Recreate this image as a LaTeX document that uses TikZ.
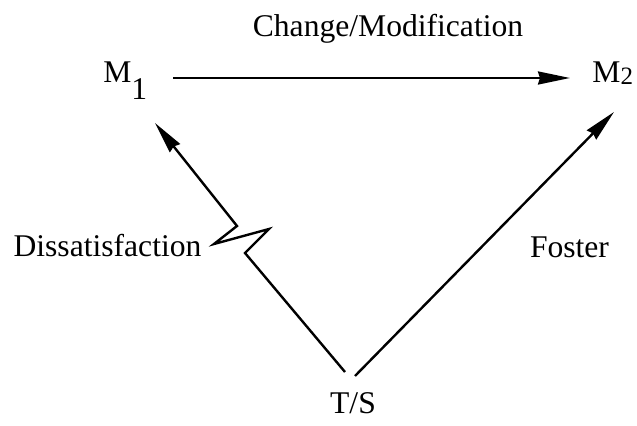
\documentclass[tikz,border=0pt]{standalone}
\usepackage{fontspec}
\setmainfont{Liberation Serif}
\usetikzlibrary{arrows.meta}
\begin{document}
\begin{tikzpicture}[x=0.5pt,y=-0.5pt,
  lbl/.style={inner sep=0pt, font=\fontsize{15.8}{19}\selectfont},
  conn/.style={line width=1.2pt, line join=miter},
  arr/.style={conn, -{Stealth[length=16pt, width=6.5pt, inset=1pt]}}]
\useasboundingbox (0,0) rectangle (637,426);
% labels
\node[lbl, anchor=base] (chg) at (388,37) {Change/Modification};
\node[lbl, anchor=base] (dis) at (107.5,257) {Dissatisfaction};
\node[lbl, anchor=base] (fos) at (569.5,258) {Foster};
\node[lbl, anchor=base] (ts) at (353,414) {T/S};
\node[lbl, anchor=base west] (m1) at (103,83) {M\raisebox{-8.5pt}{1}};
\node[lbl, anchor=base west] (m2) at (592,83) {M\raisebox{-1pt}{\fontsize{12.5}{14}\selectfont 2}};
% connector end points
\coordinate (hs) at (173,78);
\coordinate (he) at (570,78);
\coordinate (tsl) at (345,372);
\coordinate (tsr) at (355,376);
\coordinate (m1t) at (155,123);
\coordinate (m2t) at (614,112);
% connectors
\draw[arr] (hs) -- (he);
\draw[arr] (tsr) -- (m2t);
\draw[arr] (tsl) -- (245,253) -- (269,229) -- (214,244) -- (237,226) -- (m1t);
\end{tikzpicture}
\end{document}
